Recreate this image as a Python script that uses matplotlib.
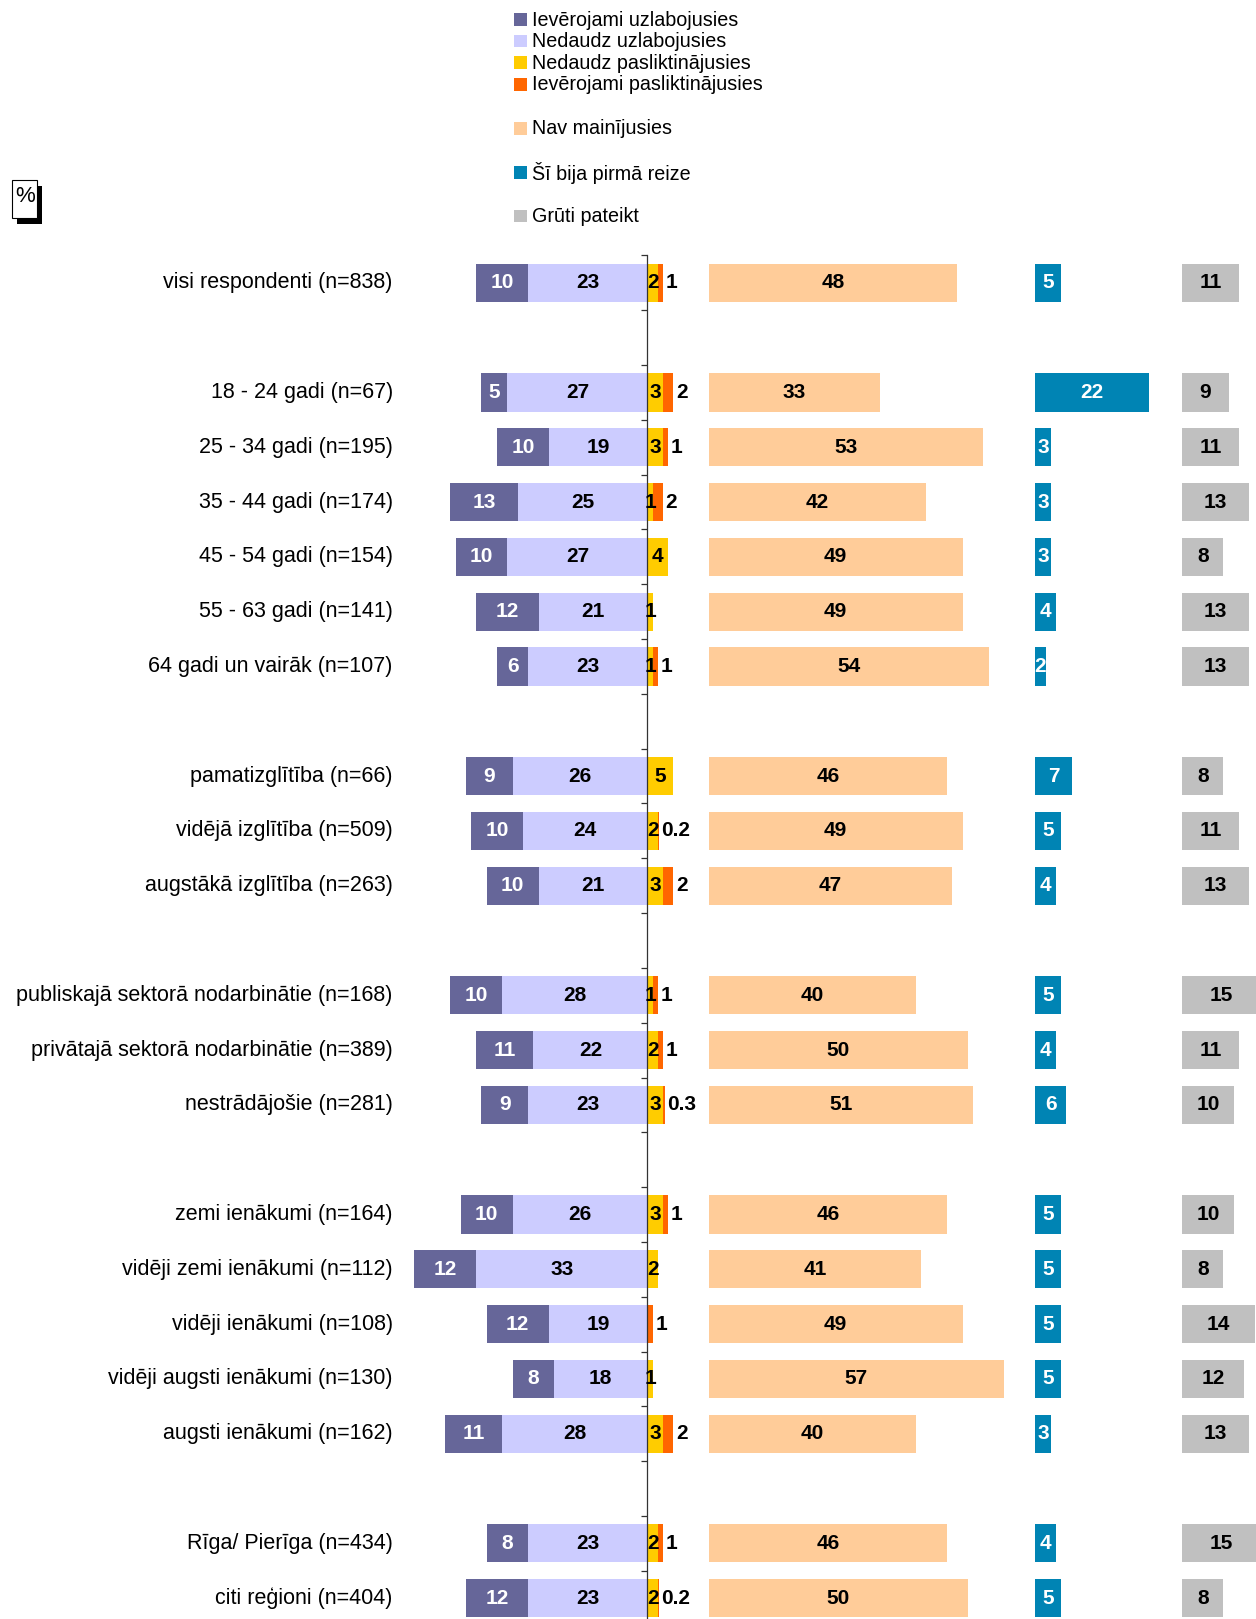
import numpy as np
import matplotlib
matplotlib.use("Agg")
import matplotlib.pyplot as plt
from matplotlib.patches import Rectangle

plt.rcParams['font.family'] = ['Liberation Sans', 'DejaVu Sans']

# ---- data -------------------------------------------------------------
categories = [
    "visi respondenti (n=838)",
    "18 - 24 gadi (n=67)",
    "25 - 34 gadi (n=195)",
    "35 - 44 gadi (n=174)",
    "45 - 54 gadi (n=154)",
    "55 - 63 gadi (n=141)",
    "64 gadi un vairāk (n=107)",
    "pamatizglītība (n=66)",
    "vidējā izglītība (n=509)",
    "augstākā izglītība (n=263)",
    "publiskajā sektorā nodarbinātie (n=168)",
    "privātajā sektorā nodarbinātie (n=389)",
    "nestrādājošie (n=281)",
    "zemi ienākumi (n=164)",
    "vidēji zemi ienākumi (n=112)",
    "vidēji ienākumi (n=108)",
    "vidēji augsti ienākumi (n=130)",
    "augsti ienākumi (n=162)",
    "Rīga/ Pierīga (n=434)",
    "citi reģioni (n=404)",
]
group_sizes = [1, 6, 3, 3, 5, 2]

improved_much   = [10, 5, 10, 13, 10, 12, 6, 9, 10, 10, 10, 11, 9, 10, 12, 12, 8, 11, 8, 12]
improved_little = [23, 27, 19, 25, 27, 21, 23, 26, 24, 21, 28, 22, 23, 26, 33, 19, 18, 28, 23, 23]
worse_little    = [2, 3, 3, 1, 4, 1, 1, 5, 2, 3, 1, 2, 3, 3, 2, 0, 1, 3, 2, 2]
worse_much      = [1, 2, 1, 2, 0, 0, 1, 0, 0.2, 2, 1, 1, 0.3, 1, 0, 1, 0, 2, 1, 0.2]
no_change       = [48, 33, 53, 42, 49, 49, 54, 46, 49, 47, 40, 50, 51, 46, 41, 49, 57, 40, 46, 50]
first_time      = [5, 22, 3, 3, 3, 4, 2, 7, 5, 4, 5, 4, 6, 5, 5, 5, 5, 3, 4, 5]
hard_to_say     = [11, 9, 11, 13, 8, 13, 13, 8, 11, 13, 15, 11, 10, 10, 8, 14, 12, 13, 15, 8]

legend_labels = [
    "Ievērojami uzlabojusies",
    "Nedaudz uzlabojusies",
    "Nedaudz pasliktinājusies",
    "Ievērojami pasliktinājusies",
    "Nav mainījusies",
    "Šī bija pirmā reize",
    "Grūti pateikt",
]

# ---- style ------------------------------------------------------------
C_IMP_MUCH = "#666699"
C_IMP_LITTLE = "#CCCCFF"
C_WORSE_LITTLE = "#FFCC00"
C_WORSE_MUCH = "#FF6600"
C_NO_CHANGE = "#FFCC99"
C_FIRST = "#0084B4"
C_HARD = "#C0C0C0"
colors = [C_IMP_MUCH, C_IMP_LITTLE, C_WORSE_LITTLE, C_WORSE_MUCH,
          C_NO_CHANGE, C_FIRST, C_HARD]

NAV_START = 11.8
FIRST_START = 74.8
HARD_START = 103.1
BAR_H = 0.70
VAL_FS = 15
CAT_FS = 15.5
LEG_FS = 14.2

W, H = 1256, 1619
fig = plt.figure(figsize=(W / 100, H / 100), dpi=100)


def fx(x):
    return x / W


def fy(y):
    return 1 - y / H


# row slots, with one empty slot between groups
slots = []
s = 0
for g in group_sizes:
    slots.extend(range(s, s + g))
    s += g + 1
y = np.array(slots, dtype=float)
n_slots = s - 1

AX_TOP = 255.5      # pixel row of the upper plot edge
SLOT_PX = 54.8      # pixel height of one row slot
XLIM = (-124.86, 117.37)
YLIM = (-0.5 + (H - AX_TOP) / SLOT_PX, -0.5)
ax = fig.add_axes([0, 0, 1, fy(AX_TOP)])

# central axis with ticks at every slot boundary
for side in ("top", "right", "bottom"):
    ax.spines[side].set_visible(False)
ax.spines["left"].set_position(("data", 0))
ax.spines["left"].set_color("#333333")
ax.spines["left"].set_linewidth(0.9)
ax.set_yticks(np.arange(-0.5, n_slots, 1.0))
ax.set_yticklabels([])
ax.tick_params(axis="y", direction="out", length=4.5, width=0.9,
               color="#333333")
ax.set_xticks([])
ax.patch.set_alpha(0)

im = np.array(improved_much, float)
il = np.array(improved_little, float)
wl = np.array(worse_little, float)
wm = np.array(worse_much, float)
nc = np.array(no_change, float)
ft = np.array(first_time, float)
hs = np.array(hard_to_say, float)

ax.barh(y, il, left=-il, height=BAR_H, color=C_IMP_LITTLE, lw=0)
ax.barh(y, im, left=-(il + im), height=BAR_H, color=C_IMP_MUCH, lw=0)
ax.barh(y, wl, left=0, height=BAR_H, color=C_WORSE_LITTLE, lw=0)
ax.barh(y, wm, left=wl, height=BAR_H, color=C_WORSE_MUCH, lw=0)
ax.barh(y, nc, left=NAV_START, height=BAR_H, color=C_NO_CHANGE, lw=0)
ax.barh(y, ft, left=FIRST_START, height=BAR_H, color=C_FIRST, lw=0)
ax.barh(y, hs, left=HARD_START, height=BAR_H, color=C_HARD, lw=0)


def fmt(v):
    return f"{v:g}"


def label(x, yy, v, color="black", ha="center"):
    if v <= 0:
        return
    ax.text(x, yy, fmt(v), ha=ha, va="center", fontsize=VAL_FS,
            fontweight="bold", color=color, clip_on=False)


for i, yy in enumerate(y):
    label(-il[i] - im[i] / 2, yy, im[i], "white")
    label(-il[i] / 2, yy, il[i])
    label(wl[i] / 2, yy, wl[i])
    label(wl[i] + wm[i] + 0.5, yy, wm[i], ha="left")
    label(NAV_START + nc[i] / 2, yy, nc[i])
    label(FIRST_START + ft[i] / 2, yy, ft[i], "white")
    label(HARD_START + hs[i] / 2, yy, hs[i])
    ax.text(-49.1, yy, categories[i], ha="right", va="center",
            fontsize=CAT_FS, color="black")

# fix the view after all artists are in place
ax.set_xlim(*XLIM)
ax.set_ylim(*YLIM)

# legend
leg_centers = [19.5, 41.0, 62.7, 84.3, 128.3, 172.3, 216.0]
sq = 12.5
for lab, col, cy in zip(legend_labels, colors, leg_centers):
    fig.add_artist(Rectangle((fx(514), fy(cy + sq / 2)), sq / W, sq / H,
                             transform=fig.transFigure, facecolor=col,
                             edgecolor="none"))
    fig.text(fx(532.5), fy(cy + 0.5), lab, ha="left", va="center",
             fontsize=LEG_FS, color="black")

# percent box with shadow
fig.add_artist(Rectangle((fx(17), fy(224)), 25.3 / W, 38 / H,
                         transform=fig.transFigure, facecolor="black",
                         edgecolor="none"))
fig.add_artist(Rectangle((fx(12), fy(218)), 25.3 / W, 38 / H,
                         transform=fig.transFigure, facecolor="white",
                         edgecolor="black", linewidth=0.8))
fig.text(fx(24.8), fy(197), "%", ha="center", va="center",
         fontsize=16, color="black")

fig.savefig("out.png", dpi=100)
